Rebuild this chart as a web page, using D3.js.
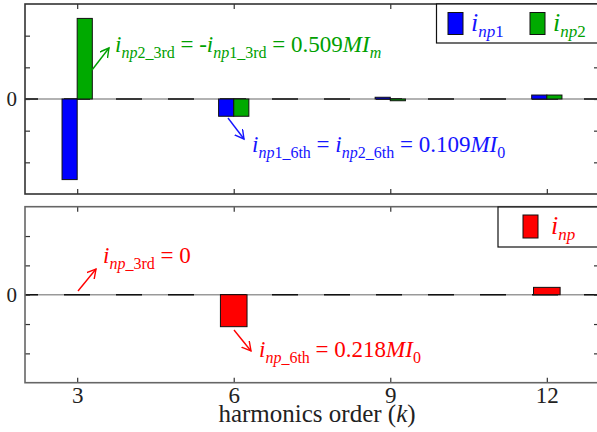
<!DOCTYPE html>
<html>
<head>
<meta charset="utf-8">
<script src="https://cdn.jsdelivr.net/npm/d3@7"></script>
<style>
body { margin: 0; background: #fff; }
svg text, svg tspan { font-family: "Liberation Serif", "DejaVu Serif", "Times New Roman", serif !important; white-space: pre; }
</style>
</head>
<body>
<div class="charts"></div>
<script>
// Harmonic components (per unit)
const harmonics = [3, 6, 9, 12];
const xTickLabels = ["3", "6", "9", "12"];
const inp1 = [-0.509, -0.109, 0.011, 0.025];
const inp2 = [0.509, -0.109, -0.011, 0.025];
const inp = [0, -0.218, 0, 0.05];
const yTicks = [-0.4, -0.2, 0, 0.2, 0.4];

const width = 597;
const height = 432;
const left = 25;
const right = 599;
const serif = "'Liberation Serif', 'DejaVu Serif', serif";

const svg = d3.select(".charts")
  .append("svg")
    .attr("width", width)
    .attr("height", height)
    .attr("font-family", serif);

// shared x scale, one y scale per panel
const x = d3.scaleLinear().domain([2, 13]).range([left, right]);
const yTop = d3.scaleLinear().domain([-0.6, 0.6]).range([194, 4]);
const yBot = d3.scaleLinear().domain([-0.6, 0.6]).range([382.7, 206.7]);

// arrow heads
const defs = svg.append("defs");
[["g", "#00a000"], ["b", "#1515ff"], ["r", "#ff0000"]].forEach(([id, c]) => {
  defs.append("marker")
    .attr("id", "arrow-" + id)
    .attr("markerUnits", "userSpaceOnUse")
    .attr("markerWidth", 12).attr("markerHeight", 12)
    .attr("refX", 9).attr("refY", 5)
    .attr("orient", "auto")
    .append("path")
      .attr("d", "M0,0 L9,5 L0,10")
      .attr("fill", "none")
      .attr("stroke", c)
      .attr("stroke-width", 1.4);
});

// text with italic / subscript parts
function richText(g, tx, ty, parts, size, subSize, color) {
  const t = g.append("text")
    .attr("x", tx).attr("y", ty)
    .attr("fill", color)
    .attr("font-family", serif)
    .style("font-size", size + "px");
  let sub = false;
  parts.forEach(p => {
    const ts = t.append("tspan").text(p.t);
    if (p.i) ts.style("font-style", "italic");
    if (p.s) ts.style("font-size", subSize + "px");
    if (p.s && !sub) ts.attr("dy", size * 0.24);
    if (!p.s && sub) ts.attr("dy", -size * 0.24);
    sub = !!p.s;
  });
  return t;
}

function drawPanel(y, frameColor, showLabels) {
  const g = svg.append("g");

  // zero line: grey line with black dashes over it
  g.append("line")
    .attr("x1", left).attr("x2", right)
    .attr("y1", y(0)).attr("y2", y(0))
    .attr("stroke", "#999").attr("stroke-width", 1.6);
  g.append("line")
    .attr("x1", left).attr("x2", right)
    .attr("y1", y(0)).attr("y2", y(0))
    .attr("stroke", "#111").attr("stroke-width", 1.6)
    .attr("stroke-dasharray", "26 26")
    .attr("stroke-dashoffset", 13);

  // inward ticks on all four sides
  const axL = g.append("g")
    .attr("transform", `translate(${left},0)`)
    .call(d3.axisLeft(y).tickValues(yTicks).tickSize(-5).tickPadding(8)
      .tickFormat(d => d === 0 ? "0" : ""));
  const axR = g.append("g")
    .attr("transform", `translate(${right},0)`)
    .call(d3.axisRight(y).tickValues(yTicks).tickSize(-5).tickFormat(""));
  const axB = g.append("g")
    .attr("transform", `translate(0,${y.range()[0]})`)
    .call(d3.axisBottom(x).tickValues(harmonics).tickSize(-5).tickPadding(4)
      .tickFormat((d, i) => showLabels ? xTickLabels[i] : ""));
  const axT = g.append("g")
    .attr("transform", `translate(0,${y.range()[1]})`)
    .call(d3.axisTop(x).tickValues(harmonics).tickSize(-5).tickFormat(""));

  [axL, axR, axB, axT].forEach(a => {
    a.attr("font-family", serif);
    a.select(".domain").remove();
    a.selectAll(".tick line").attr("stroke", "#333").attr("stroke-width", 1.2);
    a.selectAll(".tick text")
      .attr("fill", "#222")
      .attr("font-family", serif)
      .style("font-size", "23px");
  });
  axL.selectAll(".tick text").style("font-size", "21px");

  // frame
  g.append("rect")
    .attr("x", left).attr("y", y.range()[1])
    .attr("width", right - left).attr("height", y.range()[0] - y.range()[1])
    .attr("fill", "none")
    .attr("stroke", frameColor).attr("stroke-width", 1.6);

  return g;
}

function drawBars(g, y, values, x0, x1, color) {
  const data = harmonics.map((k, i) => ({k, v: values[i]})).filter(d => d.v !== 0);
  g.selectAll(null)
    .data(data)
    .enter()
    .append("rect")
      .attr("x", d => x(d.k + x0))
      .attr("width", d => x(d.k + x1) - x(d.k + x0))
      .attr("y", d => y(Math.max(d.v, 0)))
      .attr("height", d => Math.abs(y(d.v) - y(0)))
      .attr("fill", color)
      .attr("stroke", "#111")
      .attr("stroke-width", 1);
}

function arrow(g, x1, y1, x2, y2, color, id) {
  g.append("line")
    .attr("x1", x1).attr("y1", y1).attr("x2", x2).attr("y2", y2)
    .attr("stroke", color).attr("stroke-width", 1.4)
    .attr("marker-end", `url(#arrow-${id})`);
}

///////////////
/// TOP ///
///////////////
const topPanel = drawPanel(yTop, "#333", false);
drawBars(topPanel, yTop, inp1, -0.29, 0, "#0000ff");
drawBars(topPanel, yTop, inp2, 0, 0.29, "#00aa00");

arrow(topPanel, 92, 70, 109, 48, "#00a000", "g");
richText(topPanel, 115, 52, [
  {t: "i", i: true}, {t: "np", i: true, s: true}, {t: "2_3rd", s: true},
  {t: " = -"}, {t: "i", i: true}, {t: "np", i: true, s: true}, {t: "1_3rd", s: true},
  {t: " = 0.509"}, {t: "MI", i: true}, {t: "m", i: true, s: true}
], 23, 16, "#00a000");

arrow(topPanel, 228, 118, 244, 139, "#1515ff", "b");
richText(topPanel, 252, 152, [
  {t: "i", i: true}, {t: "np", i: true, s: true}, {t: "1_6th", s: true},
  {t: " = "}, {t: "i", i: true}, {t: "np", i: true, s: true}, {t: "2_6th", s: true},
  {t: " = 0.109"}, {t: "MI", i: true}, {t: "0", s: true}
], 23, 16, "#1515ff");

// legend
const legTop = topPanel.append("g");
legTop.append("rect")
  .attr("x", 436.5).attr("y", 4).attr("width", 170).attr("height", 39)
  .attr("fill", "#fff").attr("stroke", "#111").attr("stroke-width", 1.2);
[["#0000ff", 448, 471, "1"], ["#00aa00", 530, 553, "2"]].forEach(([c, sx, tx, n]) => {
  legTop.append("rect")
    .attr("x", sx).attr("y", 12.5).attr("width", 15).attr("height", 22)
    .attr("fill", c).attr("stroke", "#111").attr("stroke-width", 1);
  richText(legTop, tx, 31, [
    {t: "i", i: true}, {t: "np", i: true, s: true}, {t: n, s: true}
  ], 26, 17, c === "#0000ff" ? "#1515ff" : "#00a000");
});

//////////////////
/// BOTTOM ///
//////////////////
const botPanel = drawPanel(yBot, "#666", true);
drawBars(botPanel, yBot, inp, -0.255, 0.255, "#ff0000");

arrow(botPanel, 78, 291, 96, 269, "#ff0000", "r");
richText(botPanel, 103, 263, [
  {t: "i", i: true}, {t: "np", i: true, s: true}, {t: "_3rd", s: true}, {t: " = 0"}
], 23, 16, "#ff0000");

arrow(botPanel, 234, 330, 251, 351, "#ff0000", "r");
richText(botPanel, 259, 357, [
  {t: "i", i: true}, {t: "np", i: true, s: true}, {t: "_6th", s: true},
  {t: " = 0.218"}, {t: "MI", i: true}, {t: "0", s: true}
], 23, 16, "#ff0000");

const legBot = botPanel.append("g");
legBot.append("rect")
  .attr("x", 498).attr("y", 207).attr("width", 110).attr("height", 40)
  .attr("fill", "#fff").attr("stroke", "#111").attr("stroke-width", 1.2);
legBot.append("rect")
  .attr("x", 523).attr("y", 215).attr("width", 15).attr("height", 23)
  .attr("fill", "#ff0000").attr("stroke", "#111").attr("stroke-width", 1);
richText(legBot, 551, 234, [
  {t: "i", i: true}, {t: "np", i: true, s: true}
], 26, 17, "#ff0000");

// x axis title
richText(svg, 317, 422, [
  {t: "harmonics order ("}, {t: "k", i: true}, {t: ")"}
], 25, 17, "#222").attr("text-anchor", "middle");
</script>
</body>
</html>
